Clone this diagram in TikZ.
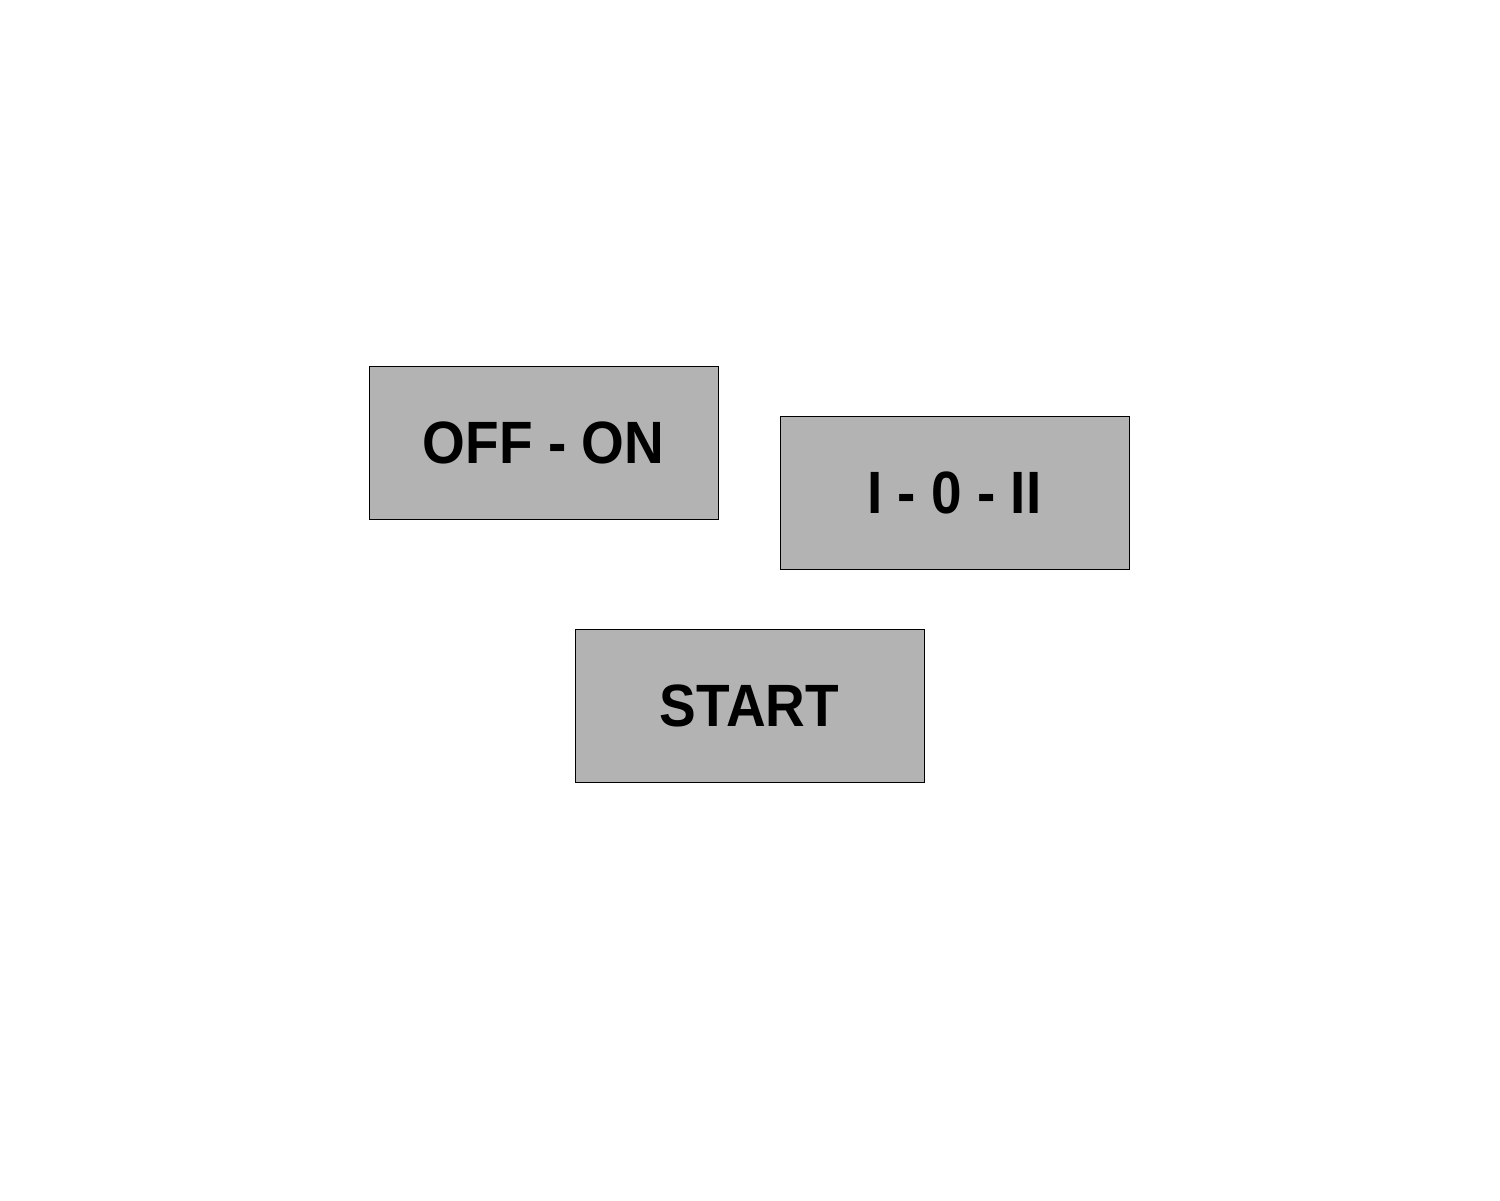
\documentclass[tikz,border=0pt]{standalone}
\usepackage{fontspec}
\setmainfont{Liberation Sans}
\newfontfamily\btnfont[FakeStretch=0.92]{Liberation Sans Bold}
\begin{document}
\begin{tikzpicture}[x=0.02cm,y=-0.02cm,
  btn/.style={draw=black, line width=0.45pt, fill=btngray, minimum width=6.98cm, minimum height=3.06cm, inner sep=0pt,
    font=\btnfont\fontsize{34}{40}\selectfont}]
\definecolor{btngray}{RGB}{179,179,179}
\useasboundingbox[fill=white] (0,0) rectangle (1500,1200);
\node[btn] (offon) at (543.5,442.5) {OFF - ON};
\node[btn] (iozero) at (954.5,492.5) {I - 0 - II};
\node[btn] (start) at (749.5,706) {START};
\end{tikzpicture}
\end{document}
